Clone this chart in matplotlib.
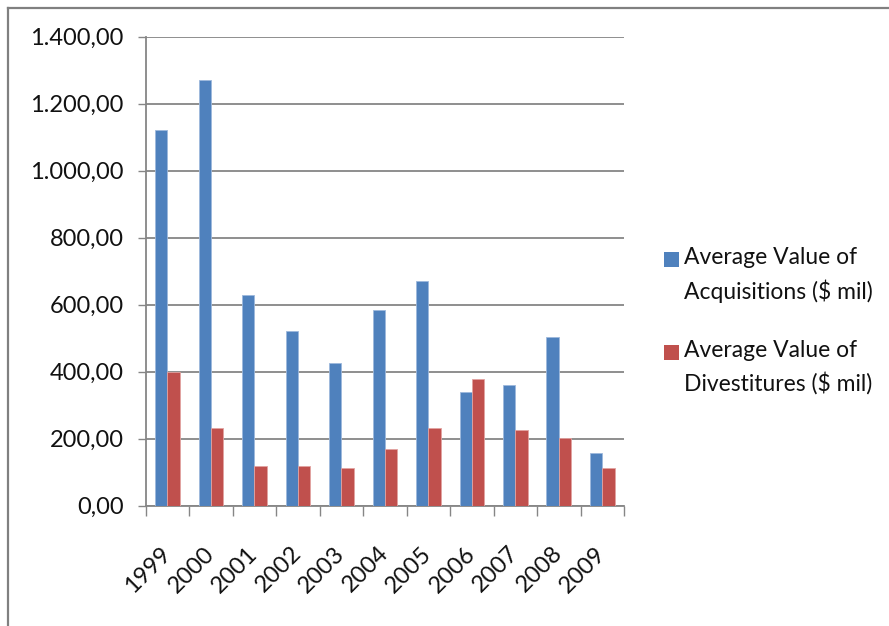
import numpy as np
import matplotlib
matplotlib.use('Agg')
import matplotlib.pyplot as plt
from matplotlib.lines import Line2D
from matplotlib.patches import Rectangle
from matplotlib.ticker import FuncFormatter, FixedLocator

plt.rcParams['font.family'] = ['Lato', 'DejaVu Sans']

years = ['1999', '2000', '2001', '2002', '2003', '2004',
         '2005', '2006', '2007', '2008', '2009']
# average deal values, $ mil
acquisitions = [1121, 1271, 630, 521, 426, 584, 672, 338, 359, 504, 156]
divestitures = [400, 231, 118, 118, 113, 168, 231, 377, 226, 201, 113]

legend_labels = ['Average Value of\nAcquisitions ($ mil)',
                 'Average Value of\nDivestitures ($ mil)']

BLUE = '#4F81BD'
RED = '#C0504D'
GRID = '#868686'
TEXT = '#111111'

W, H = 889, 626
fig = plt.figure(figsize=(W / 100, H / 100), dpi=100)
ax = fig.add_axes([145.7 / W, 1 - 505.7 / H, (624 - 145.7) / W, (505.7 - 36.7) / H])

x = np.arange(len(years))
w = 0.283
ax.bar(x - w / 2, acquisitions, w, color=BLUE, edgecolor='#9DB8DC', linewidth=0.6, zorder=3)
ax.bar(x + w / 2, divestitures, w, color=RED, edgecolor='#E2A3A1', linewidth=0.6, zorder=3)

ax.set_xlim(-0.5, len(years) - 0.5)
ax.set_ylim(0, 1400)

# y axis: gridlines every 200, European number format
ax.set_yticks(np.arange(0, 1401, 200))
ax.yaxis.set_major_formatter(FuncFormatter(
    lambda v, pos: '{:,.2f}'.format(v).replace(',', 'X').replace('.', ',').replace('X', '.')))
ax.yaxis.grid(True, color=GRID, linewidth=1.3, zorder=0)
ax.tick_params(axis='y', direction='out', length=5.8, width=1, color=GRID,
               pad=10, labelsize=17, labelcolor=TEXT)

# x axis: tick marks between categories, labels at the centres
ax.xaxis.set_major_locator(FixedLocator(np.arange(-0.5, len(years), 1.0)))
ax.xaxis.set_major_formatter(FuncFormatter(lambda v, pos: ''))
ax.xaxis.set_minor_locator(FixedLocator(x))
ax.set_xticklabels(years, minor=True)
ax.tick_params(axis='x', which='major', direction='out', length=7.2, width=1, color=GRID)
ax.tick_params(axis='x', which='minor', length=0, pad=32, labelsize=17,
               labelcolor=TEXT)
for lab in ax.get_xticklabels(minor=True):
    lab.set_rotation(45)
    lab.set_rotation_mode('anchor')
    lab.set_ha('right')
    lab.set_va('center')

for side in ('top', 'right'):
    ax.spines[side].set_visible(False)
for side in ('left', 'bottom'):
    ax.spines[side].set_color(GRID)
    ax.spines[side].set_linewidth(1.3)

# legend drawn by hand so the swatch sits on the first text line
for (color, label, ytop) in zip([BLUE, RED], legend_labels, [250, 343]):
    fig.add_artist(Rectangle((664 / W, 1 - (ytop + 17) / H), 15 / W, 15 / H,
                             transform=fig.transFigure, facecolor=color,
                             edgecolor='none'))
    fig.text(684 / W, 1 - (ytop - 3) / H, label, fontsize=16.5, color=TEXT,
             ha='left', va='top', linespacing=1.58)

# outer frame (left and top edges)
fig.add_artist(Line2D([7.5 / W, 7.5 / W], [0, 1 - 7.5 / H], transform=fig.transFigure,
                      color='#808080', linewidth=1.6))
fig.add_artist(Line2D([7.5 / W, 1], [1 - 7.5 / H, 1 - 7.5 / H], transform=fig.transFigure,
                      color='#808080', linewidth=1.6))

fig.savefig('out.png', dpi=100)
